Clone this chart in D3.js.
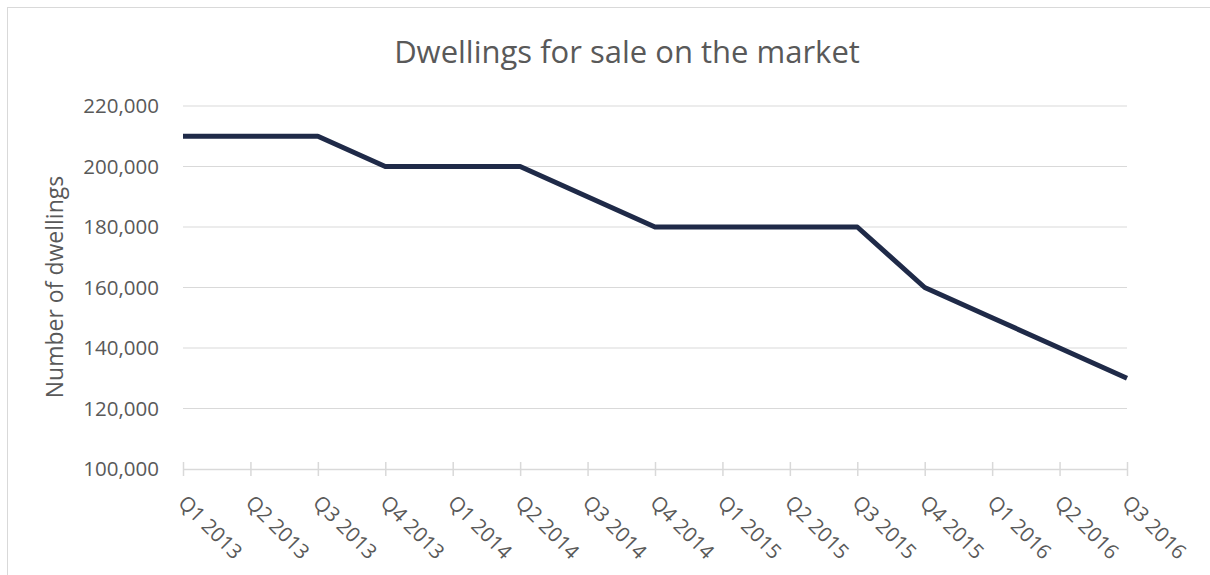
<!DOCTYPE html>
<html><head><meta charset="utf-8">
<script src="https://cdn.jsdelivr.net/npm/d3@7"></script>
<style>body{margin:0;background:#fff;}svg{display:block;}text{font-family:"Open Sans","Noto Sans",sans-serif;}</style>
</head><body>
<script>
const categories = ["Q1 2013","Q2 2013","Q3 2013","Q4 2013","Q1 2014","Q2 2014","Q3 2014","Q4 2014","Q1 2015","Q2 2015","Q3 2015","Q4 2015","Q1 2016","Q2 2016","Q3 2016"];
const dwellings = [210000,210000,210000,200000,200000,200000,190000,180000,180000,180000,180000,160000,150000,140000,130000];
const yTicks = [100000,120000,140000,160000,180000,200000,220000];
const title = "Dwellings for sale on the market";
const yLabel = "Number of dwellings";

const W = 1210, H = 575;
const svg = d3.select("body").append("svg").attr("width", W).attr("height", H);
svg.append("rect").attr("x",7.5).attr("y",7.5).attr("width",W).attr("height",H).attr("fill","#fff").attr("stroke","#d9d9d9");

const x = d3.scalePoint().domain(categories).range([183, 1127]);
const y = d3.scaleLinear().domain([100000, 220000]).range([469, 106]);

// gridlines
svg.append("g").selectAll("line").data(yTicks.filter(d=>d>100000)).join("line")
  .attr("x1",183).attr("x2",1127).attr("y1",d=>y(d)).attr("y2",d=>y(d))
  .attr("stroke","#d9d9d9").attr("stroke-width",1.2);

// y axis labels
const fmt = d3.format(",");
svg.append("g").selectAll("text").data(yTicks).join("text")
  .attr("x",159).attr("y",d=>y(d)).attr("dy","0.36em").attr("text-anchor","end")
  .attr("font-size",20.5).attr("fill","#595959").text(d=>fmt(d));

// x axis
const xAxis = svg.append("g").attr("transform",`translate(0,${y(100000)})`)
  .call(d3.axisBottom(x).tickSizeInner(7).tickSizeOuter(0).tickFormat(""));
xAxis.select(".domain").attr("stroke","#d9d9d9").attr("stroke-width",1.5);
xAxis.selectAll(".tick line").attr("stroke","#d9d9d9").attr("stroke-width",1.5).attr("y1",-7).attr("y2",7);

svg.append("g").selectAll("text").data(categories).join("text")
  .attr("transform",d=>`translate(${x(d)-6},${y(100000)+35}) rotate(45)`)
  .attr("font-size",20.5).attr("fill","#595959").text(d=>d);

// line
svg.append("path").datum(dwellings)
  .attr("d", d3.line().x((d,i)=>x(categories[i])).y(d=>y(d)))
  .attr("fill","none").attr("stroke","#1f2a48").attr("stroke-width",5).attr("stroke-linejoin","round");

// title
svg.append("text").attr("x",627).attr("y",63).attr("text-anchor","middle")
  .attr("font-size",31).attr("fill","#595959").text(title);

// y label
svg.append("text").attr("transform",`translate(63,287) rotate(-90)`).attr("text-anchor","middle")
  .attr("font-size",23).attr("fill","#595959").text(yLabel);
</script>
</body></html>
